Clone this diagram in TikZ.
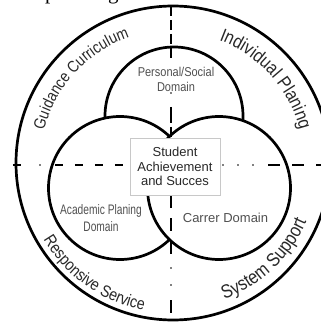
\documentclass[tikz,border=0pt]{standalone}
\usepackage{fontspec}
\setmainfont{Liberation Sans}
\newfontfamily\narrowfont[FakeStretch=0.86]{Liberation Sans}
\newfontfamily\capfont{Liberation Serif}
\usepackage{xcolor}
\usetikzlibrary{decorations.text}

\definecolor{txtgray}{RGB}{40,40,40}
\definecolor{domgray}{RGB}{80,80,80}
\definecolor{boxgray}{RGB}{200,200,200}

\begin{document}
\begin{tikzpicture}[x=1pt,y=1pt,
ring/.style={line width=2.7pt},
cross/.style={line width=1.5pt},
domtext/.style={text=domgray,align=center,inner sep=0pt}]
\useasboundingbox (-173,-161) rectangle (148,163);
% caption line above, cut by the page edge
\node[anchor=base west,font=\capfont\fontsize{21}{21}\selectfont,inner sep=0pt] (cap) at (-128,163.5) {planning};
\coordinate (O) at (0,0);
\coordinate (ps) at (1,47);
\coordinate (ap) at (-53,-25);
\coordinate (cd) at (46,-25);
\draw[ring] (O) circle (157);
\draw[ring,fill=white] (ps) circle (69);
\draw[ring,fill=white] (ap) circle (71.5);
\draw[ring,fill=white] (cd) circle (71.5);
%% the two axes
\draw[cross,dash pattern=on 10pt off 4pt] (-2,157)--(-2,102);
\fill (-2,70) circle (0.9);
\draw[cross,dash pattern=on 16pt off 4pt] (-2,56)--(-2,26);
\draw[cross,dash pattern=on 13pt off 10pt] (-2,-32)--(-2,-92);
\fill (-2,-105) circle (0.9)
(-2,-122) circle (0.9);
\draw[cross] (-2,-137)--(-2,-150);
\draw[cross] (-160,-2)--(-152,-2);
\fill (-133,-2) circle (0.9);
\draw[cross,dash pattern=on 8pt off 12pt] (-118,-2)--(-43,-2);
\fill (50,-2) circle (0.9)
(65,-2) circle (0.9)
(80,-2) circle (0.9);
\draw[cross,dash pattern=on 12pt off 12pt] (95,-2)--(148,-2);
%% centre box
\node[draw=boxgray,fill=white,line width=0.6pt,minimum width=90pt,minimum height=57pt,align=center,text=txtgray,font=\fontsize{13}{14.5}\selectfont] (core) at (2,-3.5) {Student\\Achievement\\and Succes};
%% domains
\node[domtext,font=\narrowfont\fontsize{12.8}{15}\selectfont] (social) at (3,83.5) {Personal/Social\\Domain};
\node[domtext,xscale=.86,font=\narrowfont\fontsize{13.8}{17}\selectfont] (academic) at (-72,-55.5) {Academic Planing\\Domain};
\node[domtext,font=\fontsize{13}{15}\selectfont] (career) at (52.5,-55) {Carrer Domain};
%% ring labels
\path[decorate,decoration={text along path,text align=center,
text={|\narrowfont\fontsize{16.3}{16}\selectfont\color{txtgray}|Guidance Curriculum}}]
(177.5:133) arc[start angle=177.5,end angle=97.5,radius=133];
\path[decorate,decoration={text along path,text align=center,
text={|\narrowfont\fontsize{18.6}{18}\selectfont\color{txtgray}|Individual Planing}}]
(82:131) arc[start angle=82,end angle=2,radius=131];
\path[decorate,decoration={text along path,text align=center,
text={|\narrowfont\fontsize{16.6}{16}\selectfont\color{txtgray}|Responsive Service}}]
(194.7:150.5) arc[start angle=194.7,end angle=274.7,radius=150.5];
\path[decorate,decoration={text along path,text align=center,
text={|\narrowfont\fontsize{19}{19}\selectfont\color{txtgray}|System Support}}]
(273.4:146) arc[start angle=273.4,end angle=353.4,radius=146];
\end{tikzpicture}
\end{document}
